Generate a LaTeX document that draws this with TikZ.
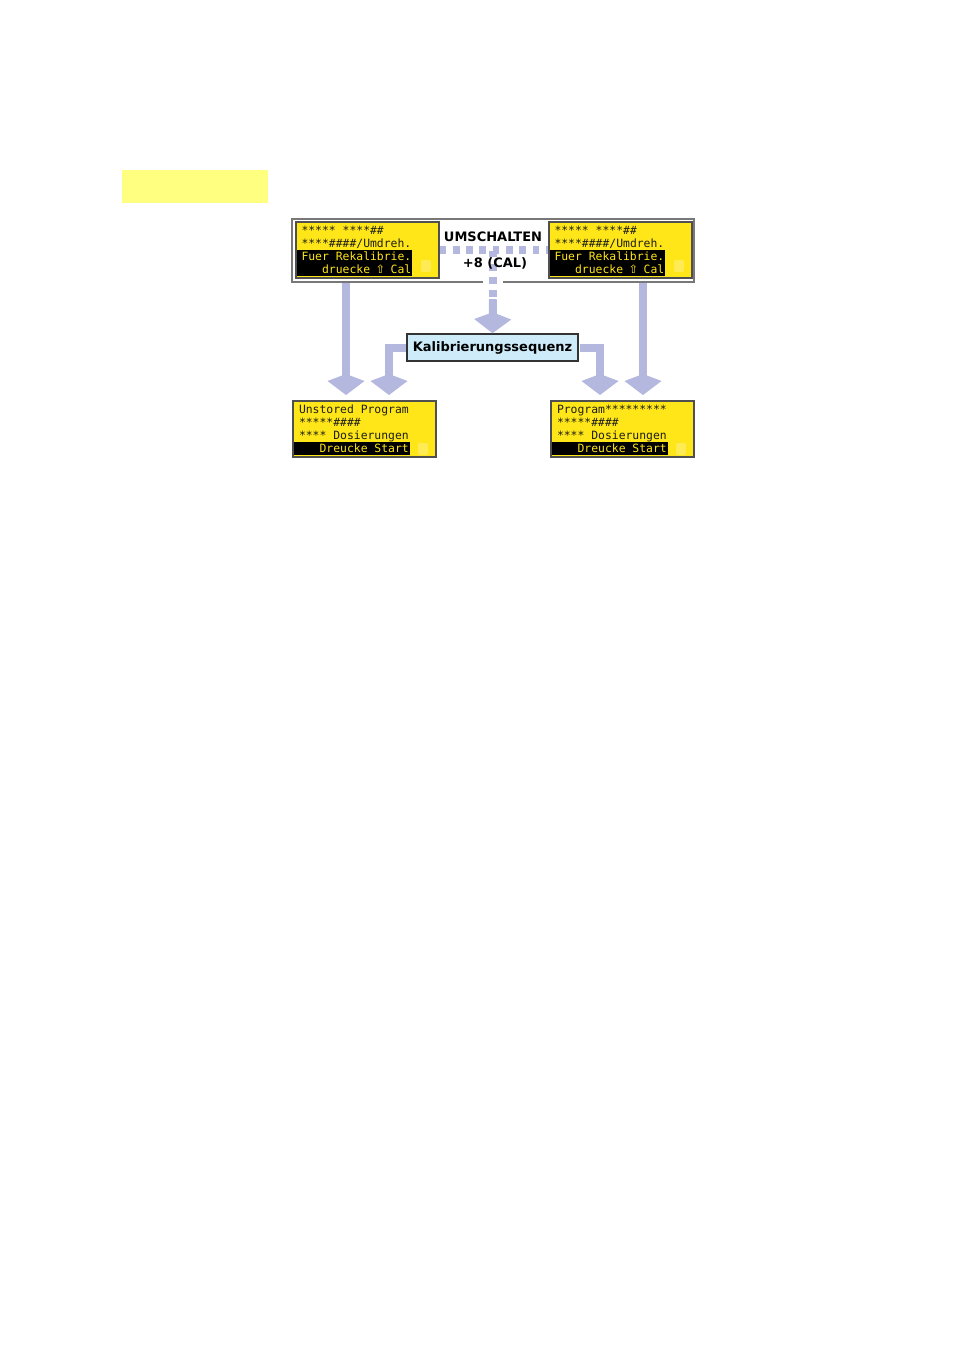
\documentclass[tikz,border=0pt]{standalone}
\usepackage{fontspec}
\newfontfamily\lcdfont{DejaVu Sans Mono}
\newfontfamily\labelfont{DejaVu Sans}
\usetikzlibrary{arrows.meta}

\definecolor{tagyellow}{RGB}{255,255,128}
\definecolor{lcdyellow}{RGB}{255,230,25}
\definecolor{cursoryellow}{RGB}{255,236,85}
\definecolor{lcdframe}{RGB}{80,80,80}
\definecolor{lcdtext}{RGB}{30,30,20}
\definecolor{framegray}{RGB}{120,120,120}
\definecolor{arrowblue}{RGB}{180,184,222}
\definecolor{kalibblue}{RGB}{205,235,248}

\setlength{\fboxsep}{0pt}
\newcommand{\lsp}{\hphantom{x}}
\newcommand{\lcdstrut}{\rule[-2.5pt]{0pt}{13pt}}
\newcommand{\lcdinv}[1]{\hspace*{-5pt}\colorbox{black}{\lcdstrut\hspace{5pt}\textcolor{lcdyellow}{#1}\hspace{1pt}}}
\newcommand{\upkey}{\makebox[0.602em]{\labelfont ⇧}}

\tikzset{
  lcd/.style={draw=lcdframe, line width=2pt, fill=lcdyellow, text=lcdtext,
    minimum width=143pt, minimum height=56pt, inner xsep=6pt, inner ysep=1pt,
    text width=131pt, align=left, font=\lcdfont\fontsize{11.4}{13}\selectfont},
  cursor/.style={fill=cursoryellow, rounded corners=2pt, minimum width=10pt,
    minimum height=12pt, inner sep=0pt},
  bigarrow/.style={draw=arrowblue, line width=8pt, line join=miter,
    -{Kite[length=21pt,width=37pt,inset=7pt]}},
  dotline/.style={draw=arrowblue, line width=8pt, dash pattern=on 6.7pt off 6.6pt},
  keylabel/.style={font=\labelfont\bfseries\fontsize{13}{13}\selectfont, inner sep=0pt}
}

\begin{document}
\begin{tikzpicture}[x=1pt, y=-1pt]
\useasboundingbox (0,0) rectangle (954,1350);

\node [fill=tagyellow, minimum width=146pt, minimum height=33pt, inner sep=0pt] (tag)
 at (195, 186.5) {};

\node [minimum width=402pt, minimum height=63pt, inner sep=0pt] (frame) at (493, 250.5) {};

\node [lcd] (lcdTL) at (367, 250) {
\lcdstrut*****\lsp****\textit{\#\#}\\
{}****\textit{\#\#\#\#}/Umdreh.\\
\lcdinv{Fuer\lsp Rekalibrie.}\\
\lcdinv{\lsp\lsp\lsp druecke\lsp\upkey\lsp Cal}
};

\node [lcd] (lcdTR) at (620, 250) {
\lcdstrut*****\lsp****\textit{\#\#}\\
{}****\textit{\#\#\#\#}/Umdreh.\\
\lcdinv{Fuer\lsp Rekalibrie.}\\
\lcdinv{\lsp\lsp\lsp druecke\lsp\upkey\lsp Cal}
};

\node [cursor] (curTL) at (426, 266) {};
\node [cursor] (curTR) at (679, 266) {};

\draw [dotline] (lcdTL.east) -- (lcdTR.west);
\draw [dotline] (frame.center) -- ([yshift=-18pt]frame.south);

\node [keylabel] (umschalten) at (493, 237) {UMSCHALTEN};
\node [keylabel] (calkey) at (495, 263) {+8 (CAL)};

\node [draw=black!80, line width=1.5pt, fill=kalibblue, minimum width=171pt,
 minimum height=27pt, inner sep=0pt, keylabel] (kalib) at (492.5, 347.5) {Kalibrierungssequenz};

\node [lcd] (lcdBL) at (364.5, 429) {
\lcdstrut Unstored\lsp Program\\
{}*****\textit{\#\#\#\#}\\
{}****\lsp Dosierungen\\
\lcdinv{\lsp\lsp\lsp Dreucke\lsp Start}
};

\node [lcd] (lcdBR) at (622.5, 429) {
\lcdstrut Program*********\\
{}*****\textit{\#\#\#\#}\\
{}****\lsp Dosierungen\\
\lcdinv{\lsp\lsp\lsp Dreucke\lsp Start}
};

\node [cursor] (curBL) at (423, 449) {};
\node [cursor] (curBR) at (681, 449) {};

% arrows
\draw [bigarrow] ([yshift=-17pt]frame.south) -- (kalib.north);
\draw [bigarrow] ([xshift=-147pt]frame.south) -- ([xshift=-18.5pt, yshift=5pt]lcdBL.north);
\draw [bigarrow] ([xshift=150pt]frame.south) -- ([xshift=20.5pt, yshift=5pt]lcdBR.north);
\draw [bigarrow, shorten <=0.75pt] (kalib.west) -| ([xshift=24.5pt, yshift=5pt]lcdBL.north);
\draw [bigarrow, shorten <=0.75pt] (kalib.east) -| ([xshift=-22.5pt, yshift=5pt]lcdBR.north);

\draw [framegray, line width=1.5pt] ([xshift=-10pt]frame.south) -| (frame.north west)
 -| (frame.south east) -- ([xshift=10pt]frame.south);

\end{tikzpicture}
\end{document}
